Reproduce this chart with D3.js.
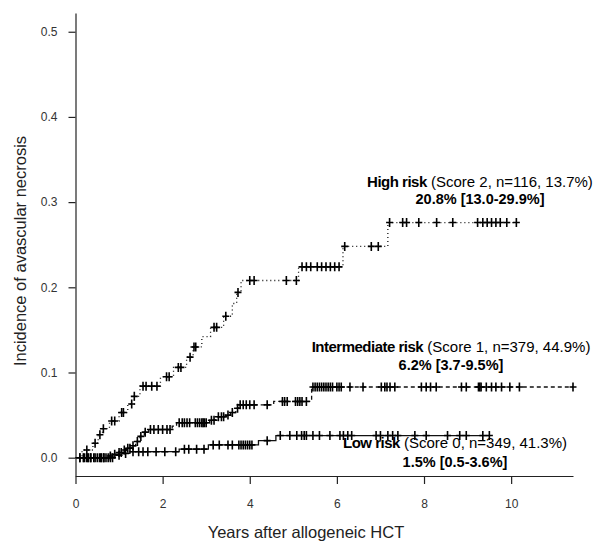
<!DOCTYPE html>
<html>
<head>
<meta charset="utf-8">
<script src="https://cdn.jsdelivr.net/npm/d3@7"></script>
<style>
  body { margin: 0; background: #fff; }
  text { font-family: Arial, "Liberation Sans", sans-serif; }
</style>
</head>
<body>
<div id="chart"></div>
<script>
// Step data: [years, cumulative incidence]
const highSteps = [[0.15, 0.009], [0.40, 0.017], [0.52, 0.027], [0.62, 0.034], [0.78, 0.043],
  [1.0, 0.053], [1.2, 0.063], [1.35, 0.072], [1.48, 0.084], [1.95, 0.095], [2.25, 0.106],
  [2.55, 0.118], [2.7, 0.130], [2.9, 0.142], [3.1, 0.153], [3.4, 0.166], [3.6, 0.181],
  [3.7, 0.194], [3.8, 0.208], [5.12, 0.224], [6.14, 0.248], [7.17, 0.276]]
const highCensor = [0.26, 0.45, 0.56, 0.64, 0.83, 0.90, 1.06, 1.1, 1.29, 1.35, 1.55, 1.62, 1.75,
  1.87, 2.09, 2.15, 2.36, 2.42, 2.63, 2.72, 2.76, 3.18, 3.24, 3.45, 3.73, 4.0, 4.1, 4.84, 5.07,
  5.2, 5.3, 5.4, 5.55, 5.65, 5.75, 5.85, 5.95, 6.05, 6.18, 6.79, 6.95, 7.21, 7.51, 7.6, 7.88,
  8.29, 8.66, 9.23, 9.35, 9.45, 9.55, 9.65, 9.75, 9.9, 10.12]

const interSteps = [[0.72, 0.002], [0.85, 0.004], [0.97, 0.006], [1.08, 0.009], [1.18, 0.011],
  [1.29, 0.014], [1.38, 0.019], [1.48, 0.025], [1.58, 0.030], [1.68, 0.033], [2.22, 0.037],
  [2.32, 0.041], [3.08, 0.044], [3.22, 0.048], [3.45, 0.050], [3.56, 0.053], [3.68, 0.058],
  [3.75, 0.062], [4.55, 0.066], [5.42, 0.083]]
const interCensor = [0.1, 0.18, 0.25, 0.3, 0.35, 0.45, 0.55, 0.6, 0.65, 0.8, 0.9, 1.0, 1.05,
  1.12, 1.2, 1.25, 1.32, 1.42, 1.5, 1.6, 1.72, 1.8, 1.9, 2.0, 2.1, 2.17, 2.38, 2.45, 2.5, 2.56,
  2.62, 2.75, 2.8, 2.85, 2.9, 2.93, 2.96, 3.0, 3.12, 3.18, 3.28, 3.35, 3.4, 3.5, 3.6, 3.72,
  3.78, 3.85, 3.92, 4.0, 4.1, 4.4, 4.75, 4.8, 4.86, 5.05, 5.1, 5.15, 5.2, 5.3, 5.45, 5.5, 5.55,
  5.6, 5.65, 5.7, 5.75, 5.8, 5.85, 5.9, 6.0, 6.05, 6.1, 6.3, 6.6, 7.02, 7.1, 7.15, 7.22, 7.33,
  7.94, 8.05, 8.15, 8.28, 8.86, 8.97, 9.25, 9.28, 9.31, 9.43, 9.55, 9.65, 9.78, 9.97, 10.19, 11.42]

const lowSteps = [[0.9, 0.003], [1.05, 0.005], [1.25, 0.007], [2.38, 0.010], [3.05, 0.015],
  [4.2, 0.020], [4.6, 0.026]]
const lowCensor = [0.1, 0.2, 0.28, 0.35, 0.42, 0.5, 0.58, 0.65, 0.7, 0.75, 0.8, 0.85, 1.0, 1.15,
  1.32, 1.45, 1.55, 1.66, 1.85, 2.05, 2.3, 2.5, 2.6, 2.78, 2.95, 3.16, 3.3, 3.5, 3.6, 3.75, 3.8,
  3.85, 3.9, 3.95, 4.0, 4.05, 4.4, 4.7, 4.92, 5.08, 5.19, 5.25, 5.3, 5.45, 5.6, 5.84, 6.07, 6.15,
  6.25, 6.34, 6.9, 7.0, 7.17, 7.28, 7.4, 7.79, 8.05, 8.54, 8.82, 8.97, 9.35, 9.5]

const xTicks = [0, 2, 4, 6, 8, 10]
const yTicks = [0.0, 0.1, 0.2, 0.3, 0.4, 0.5]

const groupNames = ["High risk", "Intermediate risk", "Low risk"]
const groupInfo = [" (Score 2, n=116, 13.7%)", " (Score 1, n=379, 44.9%)", " (Score 0, n=349, 41.3%)"]
const groupEstimates = ["20.8% [13.0-29.9%]", "6.2% [3.7-9.5%]", "1.5% [0.5-3.6%]"]

const width = 602, height = 546

const svg = d3.select("#chart")
    .append("svg")
    .attr("width", width)
    .attr("height", height)

const x = d3.scaleLinear().domain([0, 11.42]).range([75.5, 573])
const y = d3.scaleLinear().domain([-0.0215, 0.522]).range([476, 13])

// Axes
const xAxis = svg.append("g")
    .attr("transform", "translate(0,476)")
    .call(d3.axisBottom(x).tickValues(xTicks).tickSize(8).tickSizeOuter(0).tickPadding(15))
xAxis.selectAll("text").style("font-size", "12px").attr("fill", "#333")

const yAxis = svg.append("g")
    .attr("transform", "translate(75.5,0)")
    .call(d3.axisLeft(y).tickValues(yTicks).tickFormat(d3.format(".1f")).tickSize(7).tickSizeOuter(0).tickPadding(11))
yAxis.selectAll("text").style("font-size", "12px").attr("fill", "#333")

svg.selectAll(".domain, .tick line").attr("stroke", "#222").attr("stroke-width", 1.2)

// Axis titles
svg.append("text")
    .attr("x", 306).attr("y", 538)
    .attr("text-anchor", "middle")
    .style("font-size", "16.5px").attr("fill", "#222")
    .text("Years after allogeneic HCT")

svg.append("text")
    .attr("transform", "translate(26,251) rotate(-90)")
    .attr("text-anchor", "middle")
    .style("font-size", "16.5px").attr("fill", "#222")
    .text("Incidence of avascular necrosis")

// Curves
const curves = [
  {steps: highSteps, censor: highCensor, dash: "1,3"},
  {steps: interSteps, censor: interCensor, dash: "4,3"},
  {steps: lowSteps, censor: lowCensor, dash: null}
]

const stepLine = d3.line()
    .x(d => x(d[0]))
    .y(d => y(d[1]))
    .curve(d3.curveStepAfter)

const bis = d3.bisector(d => d[0]).right

curves.forEach(c => {
  const end = d3.max(c.censor)
  const pts = [[0, 0], ...c.steps, [end, c.steps[c.steps.length - 1][1]]]
  svg.append("path")
      .attr("d", stepLine(pts))
      .attr("fill", "none")
      .attr("stroke", "#111")
      .attr("stroke-width", 1.3)
      .attr("stroke-dasharray", c.dash)

  const valueAt = t => {
    const i = bis(c.steps, t)
    return i === 0 ? 0 : c.steps[i - 1][1]
  }
  svg.append("g")
      .selectAll("path")
      .data(c.censor)
      .join("path")
      .attr("transform", d => `translate(${x(d)},${y(valueAt(d))})`)
      .attr("d", "M-3.5,0H3.5M0,-4.5V4.5")
      .attr("stroke", "#000")
      .attr("stroke-width", 1.6)
})

// Annotations
const labelPos = [[480, 187, 204], [451, 352, 370], [455, 448, 467]]

groupNames.forEach((name, i) => {
  const t = svg.append("text")
      .attr("x", labelPos[i][0]).attr("y", labelPos[i][1])
      .attr("text-anchor", "middle")
      .style("font-size", "15px")
  t.append("tspan").attr("font-weight", "bold").attr("letter-spacing", "-0.5px").text(name)
  t.append("tspan").attr("letter-spacing", "0px").text(groupInfo[i])

  svg.append("text")
      .attr("x", labelPos[i][0]).attr("y", labelPos[i][2])
      .attr("text-anchor", "middle")
      .attr("font-weight", "bold")
      .style("font-size", "14.5px")
      .text(groupEstimates[i])
})
</script>
</body>
</html>
